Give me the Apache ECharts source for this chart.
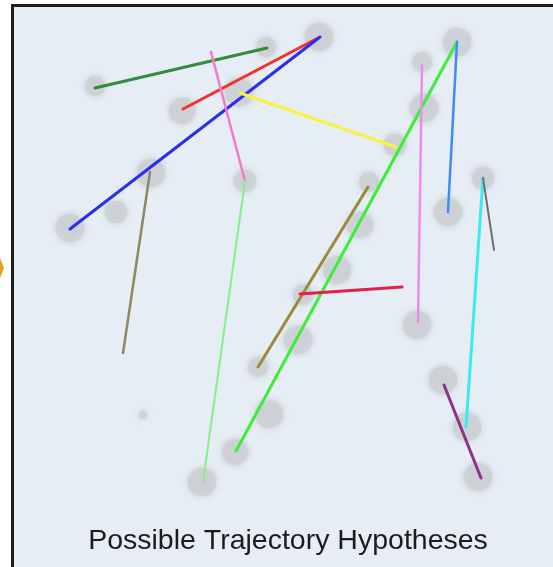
<!DOCTYPE html>
<html>
<head>
<meta charset="utf-8">
<script src="https://cdn.jsdelivr.net/npm/echarts@6/dist/echarts.min.js"></script>
<style>
  html, body { margin: 0; padding: 0; background: #fff; }
  #main { width: 553px; height: 567px; }
</style>
</head>
<body>
<div id="main"></div>
<script>
// detections (gray blobs): centre x, centre y, radius, in picture units
const blobX = [95, 266, 319, 182, 239, 151, 116, 70, 245, 457, 422, 424, 395, 369, 448, 483, 360, 337, 303, 298, 417, 443, 467, 478, 258, 269, 235, 202, 143]
const blobY = [86, 47, 37, 111, 92, 173, 212, 228, 181, 42, 62, 108, 145, 182, 212, 178, 225, 270, 295, 340, 325, 380, 427, 477, 367, 414, 452, 482, 415]
const blobR = [10, 10, 14, 13, 14, 14, 11, 14, 11, 14, 10, 14, 11, 10, 14, 11, 13, 14, 10, 14, 14, 14, 14, 14, 10, 14, 13, 14, 4]

// hypothesis segments: start and end points
const segStart = [[95, 88], [183, 109], [70, 229], [211, 52], [245, 181], [150, 172], [240, 93], [457, 42], [457, 42], [422, 65], [368, 187], [300, 294], [483, 178], [483, 178], [444, 385]]
const segEnd = [[267, 48], [318, 38], [320, 37], [245, 181], [203, 482], [123, 353], [396, 147], [236, 451], [448, 212], [418, 322], [258, 367], [402, 287], [466, 427], [494, 250], [481, 478]]
const segColor = ['#2f8d3c', '#f2302c', '#2a2ef0', '#f07cc4', '#86f088', '#8c8a62', '#f8f240', '#3ced3a', '#3b8ff0', '#ee8cec', '#9a8a3a', '#e4204a', '#3cecec', '#707070', '#8a3488']
const segWidth = [3, 3, 3, 2.5, 2, 2.5, 3, 3, 2.5, 2.5, 3, 3, 3, 2, 3]

const caption = 'Possible Trajectory Hypotheses'

const chart = echarts.init(document.getElementById('main'))

const blobData = []
for (let i = 0; i < blobX.length; i++) {
  blobData.push([blobX[i], blobY[i], blobR[i]])
}

const series = [
  {
    type: 'scatter',
    data: blobData,
    symbolSize: function (v) { return v[2] * 2 },
    itemStyle: {
      color: '#cdd1d5',
      opacity: 0.9,
      shadowBlur: 6,
      shadowColor: 'rgba(190,194,198,0.9)'
    },
    silent: true,
    z: 1
  }
]
for (let i = 0; i < segStart.length; i++) {
  series.push({
    type: 'line',
    data: [segStart[i], segEnd[i]],
    symbol: 'none',
    lineStyle: { color: segColor[i], width: segWidth[i], cap: 'round' },
    silent: true,
    z: 2
  })
}

const option = {
  animation: false,
  backgroundColor: '#ffffff',
  grid: { left: 0, right: 0, top: 0, bottom: 0 },
  xAxis: { type: 'value', min: 0, max: 553, show: false },
  yAxis: { type: 'value', min: 0, max: 567, inverse: true, show: false },
  graphic: [
    {
      type: 'rect',
      shape: { x: 12.5, y: 5.5, width: 560, height: 580 },
      style: { fill: '#e6edf4', stroke: '#1e1e1e', lineWidth: 3 },
      z: -10
    },
    {
      type: 'polygon',
      shape: { points: [[-8, 268], [0, 258], [4, 268], [0, 278]] },
      style: { fill: '#e3a21a' },
      z: -10
    },
    {
      type: 'text',
      x: 288,
      y: 541,
      style: {
        text: caption,
        fill: '#1c1c1c',
        font: '28.5px "Liberation Sans", Arial, sans-serif',
        textAlign: 'center',
        textVerticalAlign: 'middle'
      }
    }
  ],
  series: series
}

chart.setOption(option)
</script>
</body>
</html>
